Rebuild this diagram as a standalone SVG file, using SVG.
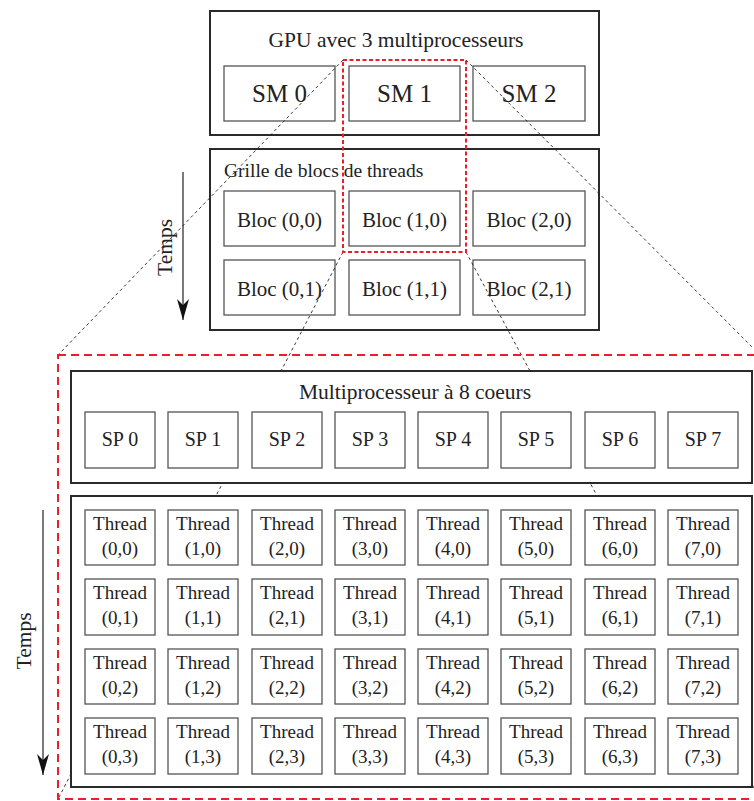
<svg xmlns="http://www.w3.org/2000/svg" width="754" height="801" viewBox="0 0 754 801">
<defs>
<style>
text{font-family:"Liberation Serif","Times New Roman",serif;fill:#222;text-anchor:middle}
.outer{fill:#fff;stroke:#2a2a2a;stroke-width:2}
.box{fill:#fff;stroke:#555;stroke-width:1.3}
.sm{font-size:25px}
.title{font-size:21.5px}
.bloc{font-size:21px}
.sp{font-size:20px}
.th{font-size:19px}
.lead{stroke:#222;stroke-width:0.9;stroke-dasharray:3 3;fill:none}
.red{fill:none;stroke:#e8202a;stroke-width:2}
.arrow{stroke:#222;stroke-width:1.2;fill:none}
</style>
<marker id="ah" markerUnits="userSpaceOnUse" markerWidth="24" markerHeight="16" viewBox="-23 -8 24 16" refX="0" refY="0" orient="auto">
<path d="M0,0 L-21,-6 L-15,0 L-21,6 Z" fill="#111"/>
</marker>
</defs>

<g id="gpu">
<rect class="outer" x="210" y="11" width="389" height="124"/>
<text class="title" x="396" y="47">GPU avec 3 multiprocesseurs</text>
</g>
<g id="sm0"><rect class="box" x="224" y="66" width="111" height="55"/><text class="sm" x="279.5" y="102">SM 0</text></g>
<g id="sm1"><rect class="box" x="349" y="66" width="111" height="55"/><text class="sm" x="404.5" y="102">SM 1</text></g>
<g id="sm2"><rect class="box" x="473" y="66" width="112" height="55"/><text class="sm" x="529" y="102">SM 2</text></g>

<g id="grille">
<rect class="outer" x="210" y="149" width="389" height="181"/>
<text x="224" y="177" style="font-size:19.5px;text-anchor:start">Grille de blocs de threads</text>
</g>
<g id="bloc00"><rect class="box" x="224" y="191" width="111" height="55"/><text class="bloc" x="279.5" y="227">Bloc (0,0)</text></g>
<g id="bloc10"><rect class="box" x="349" y="191" width="111" height="55"/><text class="bloc" x="404.5" y="227">Bloc (1,0)</text></g>
<g id="bloc20"><rect class="box" x="473" y="191" width="112" height="55"/><text class="bloc" x="529" y="227">Bloc (2,0)</text></g>
<g id="bloc01"><rect class="box" x="224" y="260" width="111" height="55"/><text class="bloc" x="279.5" y="296">Bloc (0,1)</text></g>
<g id="bloc11"><rect class="box" x="349" y="260" width="111" height="55"/><text class="bloc" x="404.5" y="296">Bloc (1,1)</text></g>
<g id="bloc21"><rect class="box" x="473" y="260" width="112" height="55"/><text class="bloc" x="529" y="296">Bloc (2,1)</text></g>

<g id="temps-top">
<line class="arrow" x1="183" y1="172" x2="183" y2="320" marker-end="url(#ah)"/>
<text class="title" transform="translate(172,247.5) rotate(-90)" x="0" y="0">Temps</text>
</g>

<g id="connectors">
<line class="lead" x1="343" y1="60" x2="58" y2="355"/>
<line class="lead" x1="466" y1="60" x2="760" y2="355"/>
<line class="lead" x1="343" y1="252" x2="58" y2="799"/>
<line class="lead" x1="466" y1="252" x2="760" y2="799"/>
</g>

<g id="selection-sm1">
<rect class="red" x="343" y="60" width="123" height="192" stroke-dasharray="4 2.5"/>
</g>
<g id="zoom-frame">
<rect class="red" x="58" y="355" width="702" height="444" stroke-dasharray="8 5"/>
</g>

<g id="multiprocesseur">
<rect class="outer" x="71" y="371" width="681" height="112"/>
<text class="title" x="415" y="399">Multiprocesseur à 8 coeurs</text>
</g>
<g id="sp0"><rect class="box" x="85" y="412" width="70" height="56"/><text class="sp" x="120" y="446">SP 0</text></g>
<g id="sp1"><rect class="box" x="168" y="412" width="70" height="56"/><text class="sp" x="203" y="446">SP 1</text></g>
<g id="sp2"><rect class="box" x="252" y="412" width="70" height="56"/><text class="sp" x="287" y="446">SP 2</text></g>
<g id="sp3"><rect class="box" x="335" y="412" width="70" height="56"/><text class="sp" x="370" y="446">SP 3</text></g>
<g id="sp4"><rect class="box" x="418" y="412" width="70" height="56"/><text class="sp" x="453" y="446">SP 4</text></g>
<g id="sp5"><rect class="box" x="501" y="412" width="70" height="56"/><text class="sp" x="536" y="446">SP 5</text></g>
<g id="sp6"><rect class="box" x="585" y="412" width="70" height="56"/><text class="sp" x="620" y="446">SP 6</text></g>
<g id="sp7"><rect class="box" x="668" y="412" width="70" height="56"/><text class="sp" x="703" y="446">SP 7</text></g>

<g id="threads">
<rect class="outer" x="71" y="496" width="681" height="291"/>
</g>

<g id="t00"><rect class="box" x="85" y="510" width="70" height="55"/><text class="th" x="120" y="530">Thread</text><text class="th" x="120" y="555">(0,0)</text></g>
<g id="t10"><rect class="box" x="168" y="510" width="70" height="55"/><text class="th" x="203" y="530">Thread</text><text class="th" x="203" y="555">(1,0)</text></g>
<g id="t20"><rect class="box" x="252" y="510" width="70" height="55"/><text class="th" x="287" y="530">Thread</text><text class="th" x="287" y="555">(2,0)</text></g>
<g id="t30"><rect class="box" x="335" y="510" width="70" height="55"/><text class="th" x="370" y="530">Thread</text><text class="th" x="370" y="555">(3,0)</text></g>
<g id="t40"><rect class="box" x="418" y="510" width="70" height="55"/><text class="th" x="453" y="530">Thread</text><text class="th" x="453" y="555">(4,0)</text></g>
<g id="t50"><rect class="box" x="501" y="510" width="70" height="55"/><text class="th" x="536" y="530">Thread</text><text class="th" x="536" y="555">(5,0)</text></g>
<g id="t60"><rect class="box" x="585" y="510" width="70" height="55"/><text class="th" x="620" y="530">Thread</text><text class="th" x="620" y="555">(6,0)</text></g>
<g id="t70"><rect class="box" x="668" y="510" width="70" height="55"/><text class="th" x="703" y="530">Thread</text><text class="th" x="703" y="555">(7,0)</text></g>

<g id="t01"><rect class="box" x="85" y="579" width="70" height="56"/><text class="th" x="120" y="599">Thread</text><text class="th" x="120" y="624">(0,1)</text></g>
<g id="t11"><rect class="box" x="168" y="579" width="70" height="56"/><text class="th" x="203" y="599">Thread</text><text class="th" x="203" y="624">(1,1)</text></g>
<g id="t21"><rect class="box" x="252" y="579" width="70" height="56"/><text class="th" x="287" y="599">Thread</text><text class="th" x="287" y="624">(2,1)</text></g>
<g id="t31"><rect class="box" x="335" y="579" width="70" height="56"/><text class="th" x="370" y="599">Thread</text><text class="th" x="370" y="624">(3,1)</text></g>
<g id="t41"><rect class="box" x="418" y="579" width="70" height="56"/><text class="th" x="453" y="599">Thread</text><text class="th" x="453" y="624">(4,1)</text></g>
<g id="t51"><rect class="box" x="501" y="579" width="70" height="56"/><text class="th" x="536" y="599">Thread</text><text class="th" x="536" y="624">(5,1)</text></g>
<g id="t61"><rect class="box" x="585" y="579" width="70" height="56"/><text class="th" x="620" y="599">Thread</text><text class="th" x="620" y="624">(6,1)</text></g>
<g id="t71"><rect class="box" x="668" y="579" width="70" height="56"/><text class="th" x="703" y="599">Thread</text><text class="th" x="703" y="624">(7,1)</text></g>

<g id="t02"><rect class="box" x="85" y="649" width="70" height="55"/><text class="th" x="120" y="669">Thread</text><text class="th" x="120" y="694">(0,2)</text></g>
<g id="t12"><rect class="box" x="168" y="649" width="70" height="55"/><text class="th" x="203" y="669">Thread</text><text class="th" x="203" y="694">(1,2)</text></g>
<g id="t22"><rect class="box" x="252" y="649" width="70" height="55"/><text class="th" x="287" y="669">Thread</text><text class="th" x="287" y="694">(2,2)</text></g>
<g id="t32"><rect class="box" x="335" y="649" width="70" height="55"/><text class="th" x="370" y="669">Thread</text><text class="th" x="370" y="694">(3,2)</text></g>
<g id="t42"><rect class="box" x="418" y="649" width="70" height="55"/><text class="th" x="453" y="669">Thread</text><text class="th" x="453" y="694">(4,2)</text></g>
<g id="t52"><rect class="box" x="501" y="649" width="70" height="55"/><text class="th" x="536" y="669">Thread</text><text class="th" x="536" y="694">(5,2)</text></g>
<g id="t62"><rect class="box" x="585" y="649" width="70" height="55"/><text class="th" x="620" y="669">Thread</text><text class="th" x="620" y="694">(6,2)</text></g>
<g id="t72"><rect class="box" x="668" y="649" width="70" height="55"/><text class="th" x="703" y="669">Thread</text><text class="th" x="703" y="694">(7,2)</text></g>

<g id="t03"><rect class="box" x="85" y="718" width="70" height="56"/><text class="th" x="120" y="738">Thread</text><text class="th" x="120" y="763">(0,3)</text></g>
<g id="t13"><rect class="box" x="168" y="718" width="70" height="56"/><text class="th" x="203" y="738">Thread</text><text class="th" x="203" y="763">(1,3)</text></g>
<g id="t23"><rect class="box" x="252" y="718" width="70" height="56"/><text class="th" x="287" y="738">Thread</text><text class="th" x="287" y="763">(2,3)</text></g>
<g id="t33"><rect class="box" x="335" y="718" width="70" height="56"/><text class="th" x="370" y="738">Thread</text><text class="th" x="370" y="763">(3,3)</text></g>
<g id="t43"><rect class="box" x="418" y="718" width="70" height="56"/><text class="th" x="453" y="738">Thread</text><text class="th" x="453" y="763">(4,3)</text></g>
<g id="t53"><rect class="box" x="501" y="718" width="70" height="56"/><text class="th" x="536" y="738">Thread</text><text class="th" x="536" y="763">(5,3)</text></g>
<g id="t63"><rect class="box" x="585" y="718" width="70" height="56"/><text class="th" x="620" y="738">Thread</text><text class="th" x="620" y="763">(6,3)</text></g>
<g id="t73"><rect class="box" x="668" y="718" width="70" height="56"/><text class="th" x="703" y="738">Thread</text><text class="th" x="703" y="763">(7,3)</text></g>

<g id="temps-bottom">
<line class="arrow" x1="43" y1="510" x2="43" y2="775" marker-end="url(#ah)"/>
<text class="title" transform="translate(31,641) rotate(-90)" x="0" y="0">Temps</text>
</g>
</svg>
